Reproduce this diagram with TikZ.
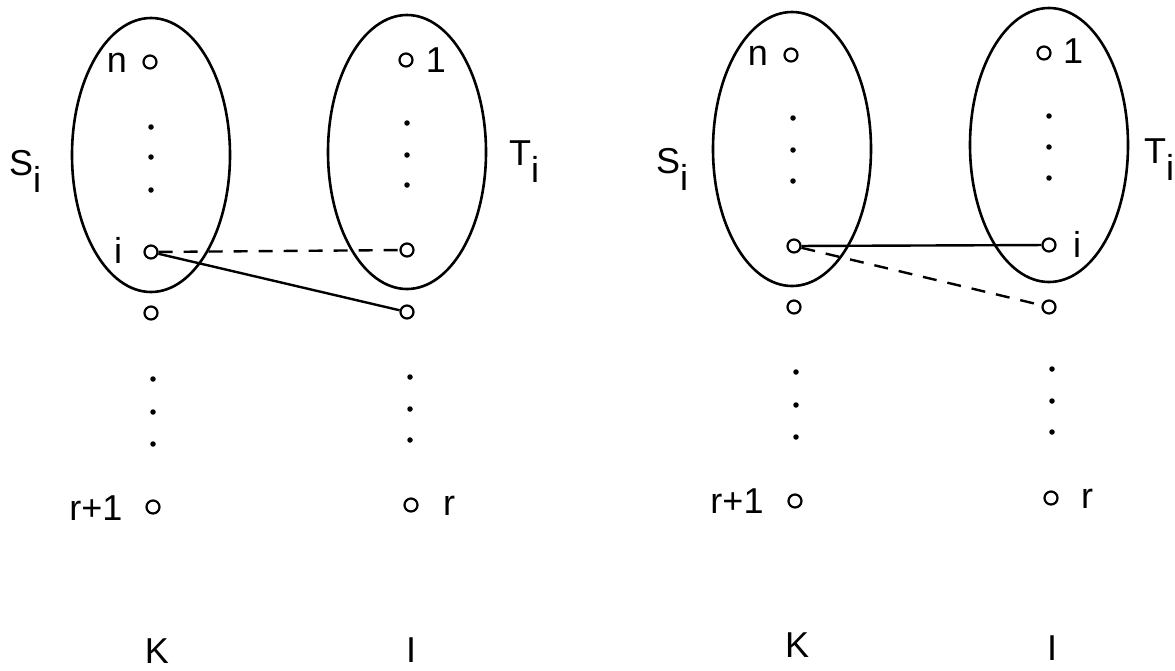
\documentclass[tikz,border=0pt]{standalone}
\usepackage{fontspec}
\setmainfont{Liberation Sans}
\usetikzlibrary{shapes.geometric}
\tikzset{
  vtx/.style={circle,draw,line width=2.2pt,inner sep=0pt,minimum size=13pt,fill=white},
  pt/.style={circle,fill,inner sep=0pt,minimum size=5.5pt},
  grp/.style={ellipse,draw,line width=2.6pt,inner sep=0pt,minimum width=158pt,minimum height=274pt},
  lab/.style={font=\fontsize{36}{40}\selectfont,inner sep=0pt,anchor=base},
  link/.style={line width=2.4pt},
  dlink/.style={link,dash pattern=on 14pt off 11pt}
}
\newcommand{\lowi}{\raisebox{-17pt}{i}}

\begin{document}
\begin{tikzpicture}[x=1pt,y=-1pt]
  \useasboundingbox (0,0) rectangle (1175,670);
  % left picture
  \node[grp] (aS) at (151,155) {};
  \node[grp] (aT) at (407,152) {};
  \node[vtx] (an) at (150,62) {};
  \node[vtx] (ai) at (151,252) {};
  \node[vtx] (ak) at (151,313) {};
  \node[vtx] (ar1) at (153,507) {};
  \node[vtx] (a1) at (406,60) {};
  \node[vtx] (aj) at (407,250) {};
  \node[vtx] (al) at (407,312) {};
  \node[vtx] (ar) at (411,505) {};
  \foreach \y [count=\k] in {127,157,190} \node[pt] (ad\k) at (151,\y) {};
  \foreach \y [count=\k] in {123,155,185} \node[pt] (ae\k) at (407,\y) {};
  \foreach \y [count=\k] in {379,412,444} \node[pt] (af\k) at (153,\y) {};
  \foreach \y [count=\k] in {377,409,440} \node[pt] (ag\k) at (410,\y) {};
  \draw[dlink] (ai) -- (aj);
  \draw[link] (ai) -- (al);
  \node[lab] (anl) at (117,72) {n};
  \node[lab] (a1l) at (436,72) {1};
  \node[lab] (ail) at (118,263) {i};
  \node[lab] (ar1l) at (96,520) {r+1};
  \node[lab] (arl) at (449,515) {r};
  \node[lab,anchor=base west] (aSl) at (9,175) {S\lowi};
  \node[lab,anchor=base west] (aTl) at (509,165) {T\lowi};
  \node[lab] (aK) at (157,663) {K};
  \node[lab] (aI) at (411,662) {I};
  % right picture
  \node[grp] (bS) at (792,149) {};
  \node[grp] (bT) at (1049,145) {};
  \node[vtx] (bn) at (791,55) {};
  \node[vtx] (bi) at (794,246) {};
  \node[vtx] (bk) at (794,307) {};
  \node[vtx] (br1) at (795,501) {};
  \node[vtx] (b1) at (1044,53) {};
  \node[vtx] (bj) at (1049,245) {};
  \node[vtx] (bl) at (1049,307) {};
  \node[vtx] (br) at (1051,498) {};
  \foreach \y [count=\k] in {118,150,181} \node[pt] (bd\k) at (793,\y) {};
  \foreach \y [count=\k] in {116,147,178} \node[pt] (be\k) at (1049,\y) {};
  \foreach \y [count=\k] in {372,405,437} \node[pt] (bf\k) at (796,\y) {};
  \foreach \y [count=\k] in {369,401,432} \node[pt] (bg\k) at (1052,\y) {};
  \draw[link] (bi) -- (bj);
  \draw[dlink] (bi) -- (bl);
  \node[lab] (bnl) at (758,65) {n};
  \node[lab] (b1l) at (1073,63) {1};
  \node[lab] (bjl) at (1077,257) {i};
  \node[lab] (br1l) at (737,513) {r+1};
  \node[lab] (brl) at (1087,508) {r};
  \node[lab,anchor=base west] (bSl) at (656,173) {S\lowi};
  \node[lab,anchor=base west] (bTl) at (1144,163) {T\lowi};
  \node[lab] (bK) at (797,657) {K};
  \node[lab] (bI) at (1052,660) {I};
\end{tikzpicture}
\end{document}
